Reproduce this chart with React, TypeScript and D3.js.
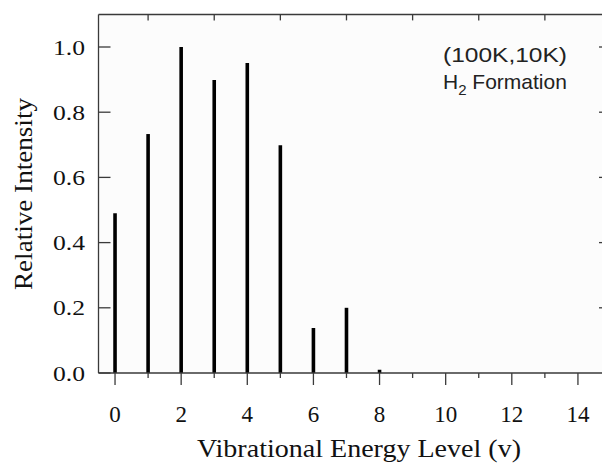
import React from "react";
import * as d3 from "d3";

const levels = [0, 1, 2, 3, 4, 5, 6, 7, 8];
const intensities = [0.49, 0.733, 1.0, 0.899, 0.951, 0.699, 0.138, 0.2, 0.01];
const xMajorTicks = [0, 2, 4, 6, 8, 10, 12, 14];
const xMinorTicks = [1, 3, 5, 7, 9, 11, 13];
const yTicks = [0, 0.2, 0.4, 0.6, 0.8, 1.0];
const annotationLine1 = "(100K,10K)";
const xTitle = "Vibrational Energy Level (v)";
const yTitle = "Relative Intensity";

export default function App() {
  const W = 602, H = 465;
  const x = d3.scaleLinear().domain([-0.5, 15]).range([98.5, 611]);
  const y = d3.scaleLinear().domain([0, 1.1]).range([373, 14.4]);
  const axisColor = "#3a3a3a";
  const serif = "'Liberation Serif', 'Times New Roman', serif";
  const sans = "'Liberation Sans', Arial, sans-serif";
  const left = x(-0.5), right = x(15), top = y(1.1), bottom = y(0);

  return (
    <svg width={W} height={H} style={{ position: "absolute", left: 0, top: 0, background: "#fff" }}>
      <rect x={left} y={top} width={right - left} height={bottom - top} fill="#fcfcfc" />
      {/* bars */}
      {levels.map((lv, i) => (
        <line key={"b" + lv} x1={x(lv)} x2={x(lv)} y1={y(0)} y2={y(intensities[i])}
          stroke="#000" strokeWidth={3.6} />
      ))}
      {/* frame */}
      <line x1={left} x2={left} y1={top} y2={bottom} stroke={axisColor} strokeWidth={1.3} />
      <line x1={right} x2={right} y1={top} y2={bottom} stroke={axisColor} strokeWidth={1.3} />
      <line x1={left} x2={right} y1={top} y2={top} stroke={axisColor} strokeWidth={1.5} />
      <line x1={left} x2={right} y1={bottom} y2={bottom} stroke={axisColor} strokeWidth={1.3} />
      {/* x ticks */}
      {xMajorTicks.map(t => (
        <g key={"xm" + t}>
          <line x1={x(t)} x2={x(t)} y1={bottom} y2={bottom + 12} stroke={axisColor} strokeWidth={1.3} />
          <text x={x(t)} y={422} textAnchor="middle" fontFamily={serif} fontSize={23} fill="#111">{t}</text>
        </g>
      ))}
      {xMinorTicks.map(t => (
        <g key={"xn" + t}>
          <line x1={x(t)} x2={x(t)} y1={bottom} y2={bottom + 5} stroke={axisColor} strokeWidth={1.3} />
          <line x1={x(t)} x2={x(t)} y1={top} y2={top + 6} stroke={axisColor} strokeWidth={1.3} />
        </g>
      ))}
      {/* y ticks */}
      {yTicks.map(t => (
        <g key={"y" + t}>
          <line x1={left} x2={left + 12} y1={y(t)} y2={y(t)} stroke={axisColor} strokeWidth={1.3} />
          {t > 0 && <line x1={right - 12} x2={right} y1={y(t)} y2={y(t)} stroke={axisColor} strokeWidth={1.3} />}
          <text x={85} y={y(t) + 7.5} textAnchor="end" fontFamily={serif} fontSize={22}
            textLength={32} lengthAdjust="spacingAndGlyphs" fill="#111">{t.toFixed(1)}</text>
        </g>
      ))}
      {/* axis titles */}
      <text x={359} y={457} textAnchor="middle" fontFamily={serif} fontSize={26}
        textLength={324} lengthAdjust="spacingAndGlyphs" fill="#111">{xTitle}</text>
      <text transform={`translate(32,194) rotate(-90)`} textAnchor="middle" fontFamily={serif} fontSize={26}
        textLength={192} lengthAdjust="spacingAndGlyphs" fill="#111">{yTitle}</text>
      {/* annotation */}
      <text x={443} y={62} fontFamily={sans} fontSize={21} fill="#222"
        textLength={124} lengthAdjust="spacingAndGlyphs">{annotationLine1}</text>
      <text x={443} y={89} fontFamily={sans} fontSize={21} fill="#222">
        H<tspan fontSize={15} dy={6}>2</tspan><tspan dy={-6}> Formation</tspan>
      </text>
    </svg>
  );
}
